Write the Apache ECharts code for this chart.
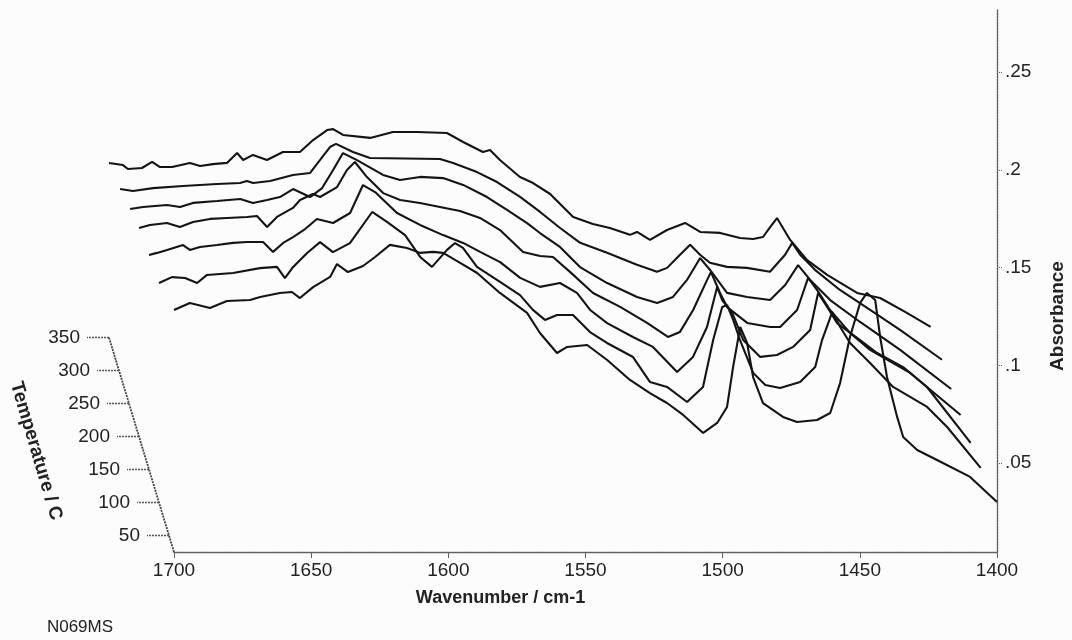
<!DOCTYPE html>
<html>
<head>
<meta charset="utf-8">
<script src="https://cdn.jsdelivr.net/npm/echarts@6/dist/echarts.min.js"></script>
<style>
  html, body { margin: 0; background: #fcfcfc; }
  #chart { width: 1072px; height: 640px; }
</style>
</head>
<body>
<div id="chart"></div>
<script>
// IR spectra at each temperature, [wavenumber, absorbance], back (350 C) to front (25 C)
var temps = [350, 300, 250, 200, 150, 100, 25];

var spec350 = [[1700,0.0938],[1694.9,0.0927],[1693.1,0.0907],[1688,0.0912],[1684.3,0.0943],[1681.4,0.0917],[1677,0.0917],[1670.5,0.0938],[1666.8,0.0922],[1662.1,0.0932],[1657,0.0938],[1653.3,0.0989],[1651.1,0.0953],[1647.5,0.0979],[1642.4,0.0953],[1636.6,0.0994],[1630.4,0.0994],[1625.6,0.1055],[1620.5,0.1106],[1618.3,0.1111],[1614.7,0.1081],[1604.8,0.1066],[1596.5,0.1096],[1587.7,0.1096],[1576.8,0.1091],[1570.9,0.1045],[1563.7,0.0994],[1561.1,0.1004],[1557.5,0.0953],[1550.2,0.0866],[1545.4,0.0835],[1539.2,0.0779],[1530.8,0.0661],[1523.6,0.0626],[1517.4,0.0605],[1510.1,0.057],[1507.5,0.0585],[1502.8,0.0544],[1496.6,0.0595],[1490,0.0631],[1484.5,0.0585],[1477.2,0.058],[1470,0.0554],[1465.2,0.0549],[1461.6,0.0559],[1459,0.061],[1456.5,0.0656],[1451.7,0.0544],[1445.5,0.0441],[1438.2,0.0365],[1427.3,0.0273],[1418.9,0.0247],[1409.8,0.0176],[1400.5,0.0099]];

var spec300 = [[1699.6,0.0973],[1694.9,0.0963],[1687.6,0.0978],[1676.7,0.0989],[1664.3,0.0999],[1655.9,0.1004],[1653.4,0.1014],[1651.1,0.1004],[1644.9,0.1014],[1636.6,0.1045],[1630.4,0.1055],[1626.7,0.1122],[1623.1,0.1188],[1620.9,0.1204],[1614.7,0.1163],[1608.5,0.1132],[1583,0.1127],[1578.2,0.1106],[1569.5,0.106],[1562.2,0.1009],[1553.8,0.0933],[1546.5,0.0856],[1539.2,0.0774],[1531.9,0.0698],[1522.1,0.0647],[1511.2,0.0586],[1503.9,0.055],[1500.2,0.057],[1495.5,0.0637],[1491.8,0.0688],[1488.2,0.0637],[1484.6,0.0596],[1478.4,0.0575],[1471.1,0.057],[1462.7,0.055],[1457.2,0.0637],[1454.6,0.0698],[1451.7,0.0637],[1446.3,0.056],[1437.2,0.0457],[1426.2,0.0355],[1415.3,0.0253],[1400,0.01]];

var spec250 = [[1699.6,0.104],[1694.9,0.105],[1686.1,0.106],[1681.4,0.105],[1676.7,0.1071],[1667.9,0.1081],[1659.5,0.1091],[1654.8,0.1071],[1649.7,0.1086],[1645,0.1101],[1640.2,0.1142],[1634,0.1101],[1629.6,0.1147],[1625.6,0.1239],[1622,0.1326],[1616.9,0.129],[1607.4,0.1214],[1601.2,0.1188],[1593.9,0.1204],[1585.5,0.1198],[1578.2,0.1163],[1569.5,0.1101],[1562.2,0.1035],[1554.9,0.0968],[1550.2,0.0917],[1542.9,0.0846],[1535.6,0.0743],[1525.7,0.0661],[1514.8,0.059],[1507.5,0.0559],[1501.7,0.059],[1496.6,0.0677],[1491.8,0.0789],[1488.2,0.0728],[1482,0.0611],[1474.7,0.059],[1466.3,0.0574],[1460.8,0.0651],[1456.1,0.0753],[1451.7,0.0677],[1444.4,0.0574],[1433.5,0.0462],[1418.9,0.0319],[1400.3,0.0119]];

var spec200 = [[1700,0.1112],[1696,0.1127],[1689.8,0.1137],[1685.1,0.1117],[1680.3,0.1142],[1674.1,0.1158],[1667.9,0.1163],[1660.6,0.1168],[1657,0.1173],[1653.3,0.1117],[1649.7,0.1168],[1643.9,0.1214],[1641.3,0.1255],[1636.6,0.1285],[1634,0.127],[1627.8,0.1321],[1624.2,0.1408],[1621.3,0.1449],[1616.9,0.1372],[1611,0.129],[1604.8,0.1255],[1597.6,0.1239],[1590.3,0.1219],[1583,0.1198],[1575.7,0.1163],[1568.4,0.1101],[1560,0.0989],[1553.8,0.0968],[1549.1,0.0963],[1542.9,0.0887],[1534.5,0.0779],[1524.6,0.0708],[1514.8,0.0626],[1507.2,0.0554],[1502.8,0.058],[1498,0.0692],[1492.9,0.0846],[1491.5,0.0886],[1488.2,0.0779],[1485.6,0.0707],[1478.3,0.0626],[1469.9,0.0605],[1466.3,0.0605],[1460.1,0.0692],[1456.1,0.0856],[1452.8,0.0794],[1448.1,0.0692],[1440.8,0.0575],[1433.5,0.0488],[1418.9,0.037],[1400.5,0.0155]];

var spec150 = [[1700,0.1142],[1697.1,0.1153],[1693.4,0.1168],[1687.6,0.1193],[1685.1,0.1168],[1681.4,0.1183],[1675.2,0.1193],[1669.4,0.1204],[1664.3,0.1209],[1658.4,0.1209],[1654.8,0.1158],[1651.1,0.1204],[1647.5,0.1234],[1643.1,0.1275],[1638.8,0.1326],[1632.9,0.1306],[1626.7,0.1357],[1622,0.15],[1617.6,0.1464],[1609.6,0.1357],[1601.2,0.1296],[1592.8,0.1244],[1585.5,0.1204],[1579.3,0.1158],[1572,0.1106],[1564.7,0.1025],[1557.5,0.0979],[1550.2,0.0999],[1544,0.0948],[1539.2,0.0861],[1533,0.0794],[1523.6,0.0723],[1516.3,0.0672],[1507.5,0.0544],[1501.7,0.0621],[1496.6,0.0774],[1492.9,0.0979],[1491.1,0.0912],[1487.4,0.0846],[1483.4,0.0708],[1477.2,0.0621],[1471.1,0.0631],[1465.2,0.0672],[1459,0.0759],[1456.1,0.0948],[1452.8,0.0876],[1449.2,0.0794],[1440.8,0.0707],[1434.6,0.0641],[1425.1,0.0569],[1416.4,0.0467],[1400.5,0.0181]];

var spec100 = [[1700,0.1168],[1695.3,0.1198],[1690.5,0.1193],[1686.1,0.1168],[1682.5,0.1209],[1673,0.1219],[1663.2,0.1244],[1657,0.125],[1654.1,0.1193],[1651.1,0.125],[1646,0.1321],[1641.3,0.1377],[1636.6,0.1326],[1630.4,0.1372],[1622.3,0.1531],[1616.9,0.148],[1610.3,0.1413],[1604.8,0.1301],[1600.5,0.125],[1595,0.1337],[1592.1,0.1372],[1589.2,0.1347],[1584.1,0.125],[1575.7,0.1173],[1568.4,0.1106],[1563.7,0.103],[1559.3,0.0979],[1554.9,0.1004],[1549.1,0.1004],[1542.9,0.0917],[1536.7,0.0861],[1527.2,0.0789],[1521,0.0661],[1514.8,0.0636],[1507.5,0.0559],[1501.7,0.0636],[1498,0.0876],[1494.7,0.1045],[1492.9,0.1055],[1490.7,0.0979],[1488.2,0.0876],[1483.4,0.0708],[1479,0.0646],[1473.6,0.0631],[1466.3,0.0661],[1460.8,0.0738],[1458.3,0.0876],[1454.6,0.1019],[1451.7,0.0943],[1448.1,0.0861],[1440.8,0.0759],[1432.4,0.0636],[1420,0.0534],[1412.7,0.0431],[1400.5,0.0222]];

var spec25 = [[1700,0.1283],[1694.2,0.1319],[1686.9,0.1293],[1680.7,0.1329],[1672.3,0.1334],[1668.6,0.1349],[1661.4,0.137],[1657,0.1375],[1654.1,0.1344],[1649.3,0.14],[1643.1,0.1452],[1640.6,0.1518],[1636.6,0.1477],[1631.1,0.1508],[1626.7,0.1554],[1621.3,0.1616],[1615.1,0.16],[1610.3,0.1575],[1605.6,0.158],[1601.9,0.1575],[1595.7,0.1524],[1589.5,0.1472],[1581.2,0.137],[1571.3,0.1268],[1566.6,0.1165],[1560.4,0.1063],[1556.7,0.1094],[1549.4,0.1104],[1542.1,0.1027],[1533.8,0.0925],[1526.5,0.0858],[1520.3,0.0807],[1514.4,0.0746],[1507.1,0.0654],[1502,0.0705],[1498.4,0.0787],[1496.2,0.0991],[1493.6,0.1196],[1491.1,0.1114],[1488.9,0.094],[1485.3,0.0807],[1478,0.0736],[1472.9,0.071],[1465.6,0.072],[1460.8,0.0756],[1457.2,0.0909],[1453.6,0.1145],[1449.9,0.1319],[1447.4,0.137],[1444.4,0.1334],[1442.6,0.1145],[1440.1,0.094],[1436.4,0.0736],[1434.2,0.0633],[1429.1,0.0567],[1419.7,0.05],[1409.8,0.0429],[1400,0.0301]];

var specs = [spec350, spec300, spec250, spec200, spec150, spec100, spec25];

var tempTicks = [50, 100, 150, 200, 250, 300, 350];
var absTicks = [0.05, 0.1, 0.15, 0.2, 0.25];
var wnMin = 1400, wnMax = 1700;

// front plane and depth projection (pixels)
var font = 'Liberation Sans, Arial, sans-serif';
var X0 = 174, Y0 = 552, W = 823, TOP = 10;
var PX_PER_ABS = 1955, ABS_MIN = 0.0045;
var T0 = 25, DX = 0.2, DY = 0.66;
var axisGray = '#606060';

function depth(T) {
  return { x: (T - T0) * DX, y: (T - T0) * DY };
}

var grids = [], xAxes = [], yAxes = [], series = [];
temps.forEach(function (T, i) {
  var d = depth(T);
  var front = (T === T0);
  var h = Y0 - d.y - TOP;
  grids.push({ left: X0 - d.x, top: TOP, width: W, height: h, outerBoundsMode: 'none' });
  xAxes.push({
    type: 'value', gridIndex: i, min: wnMin, max: wnMax, inverse: true,
    interval: 50, show: front,
    axisLine: { onZero: false, lineStyle: { color: axisGray, width: 1.4, type: [2, 1] } },
    axisTick: { length: 6, lineStyle: { color: axisGray } },
    splitLine: { show: false },
    axisLabel: {
      fontSize: 19, color: '#222', fontFamily: font, margin: 9,
      formatter: function (v) { return String(v); }
    },
    name: front ? 'Wavenumber / cm-1' : '',
    nameLocation: 'middle', nameGap: 37,
    nameTextStyle: { fontSize: 18, fontWeight: 'bold', color: '#222', fontFamily: font, padding: [0, 170, 0, 0] }
  });
  yAxes.push({
    type: 'value', gridIndex: i, position: 'right',
    min: ABS_MIN, max: ABS_MIN + h / PX_PER_ABS, show: front,
    axisLine: { show: true, lineStyle: { color: axisGray, width: 1.4, type: [2, 1] } },
    axisTick: { show: true, length: 6, customValues: absTicks, lineStyle: { color: axisGray, type: [1, 1] } },
    splitLine: { show: false },
    axisLabel: {
      customValues: absTicks, fontSize: 19, color: '#222', fontFamily: font, margin: 8,
      formatter: function (v) { return String(v).replace(/^0\./, '.'); }
    }
  });
  series.push({
    type: 'line', xAxisIndex: i, yAxisIndex: i, data: specs[i],
    showSymbol: false, clip: false, z: 2 + i,
    lineStyle: { color: '#141414', width: 2.1 }
  });
});

// slanted temperature axis along the depth direction
var graphics = [];
var back = depth(350);
graphics.push({
  type: 'line', shape: { x1: X0, y1: Y0, x2: X0 - back.x, y2: Y0 - back.y },
  style: { stroke: '#444', lineWidth: 1.8, lineDash: [2, 1] }
});
tempTicks.forEach(function (T) {
  var d = depth(T);
  var x = X0 - d.x, y = Y0 - d.y;
  graphics.push({
    type: 'line', shape: { x1: x, y1: y, x2: x - 22, y2: y },
    style: { stroke: '#555', lineWidth: 1.4, lineDash: [2, 1] }
  });
  graphics.push({
    type: 'text', x: x - 29, y: y,
    style: { text: String(T), font: '19px ' + font, fill: '#222', align: 'right', verticalAlign: 'middle' }
  });
});
graphics.push({
  type: 'text', x: 36, y: 451, rotation: -73.5 * Math.PI / 180,
  style: { text: 'Temperature / C', font: 'bold 19px ' + font, fill: '#222', align: 'center', verticalAlign: 'middle' }
});
graphics.push({
  type: 'text', x: 1058, y: 316, rotation: Math.PI / 2,
  style: { text: 'Absorbance', font: 'bold 19px ' + font, fill: '#222', align: 'center', verticalAlign: 'middle' }
});
graphics.push({
  type: 'text', x: 80, y: 627,
  style: { text: 'N069MS', font: '17px ' + font, fill: '#222', align: 'center', verticalAlign: 'middle' }
});

var chart = echarts.init(document.getElementById('chart'), null, { renderer: 'canvas' });
chart.setOption({
  backgroundColor: '#fcfcfc',
  animation: false,
  grid: grids,
  xAxis: xAxes,
  yAxis: yAxes,
  series: series,
  graphic: graphics
});
</script>
</body>
</html>
